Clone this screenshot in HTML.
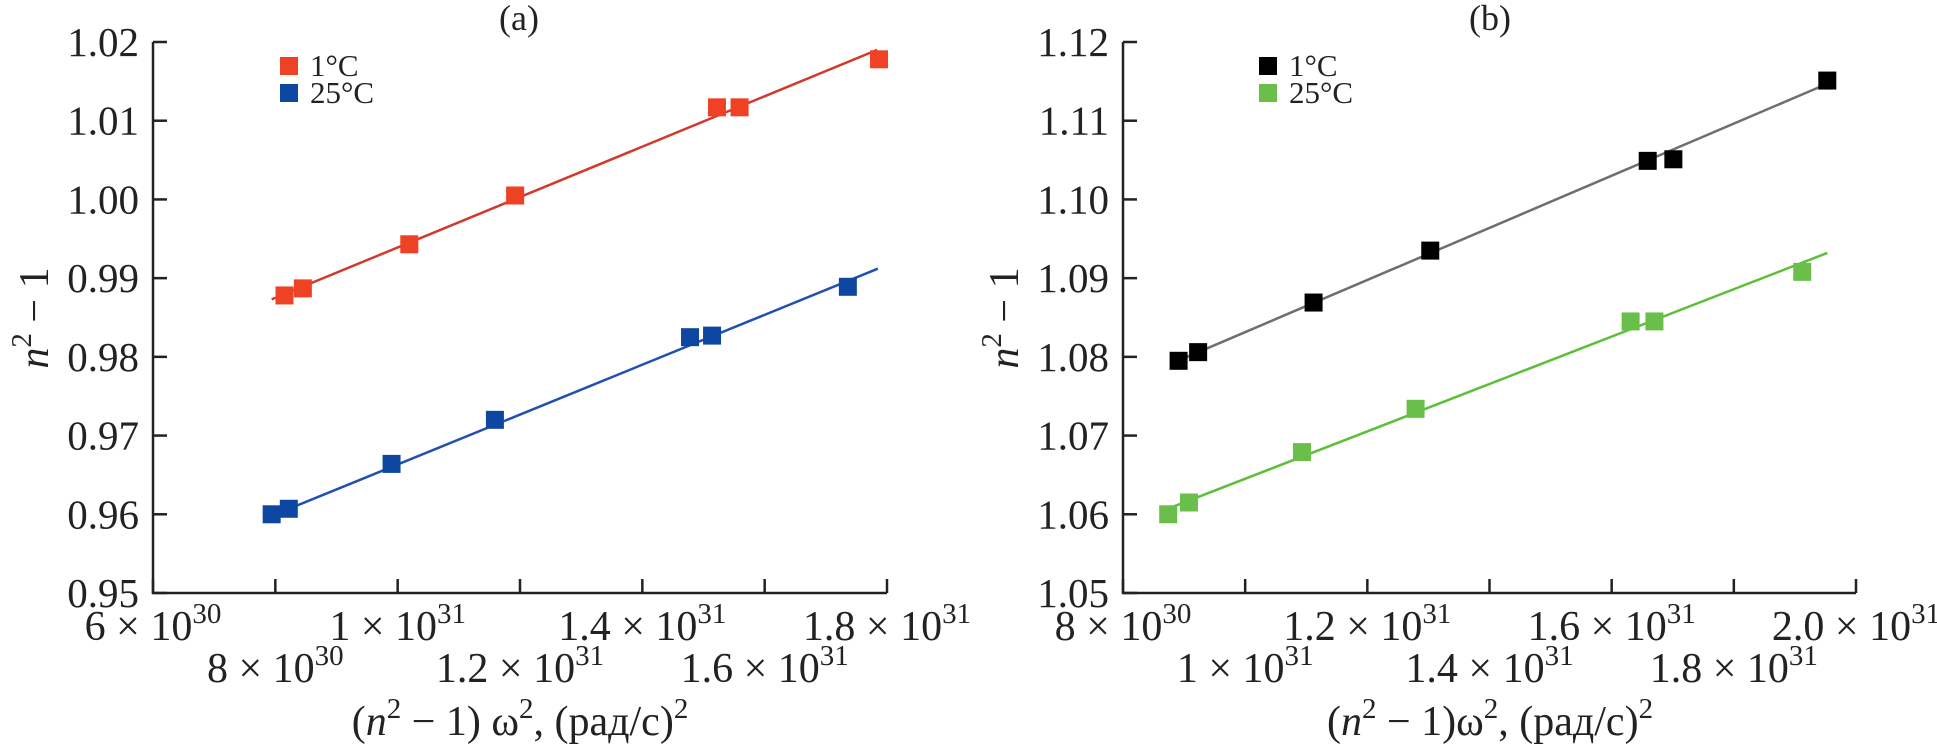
<!DOCTYPE html>
<html><head><meta charset="utf-8"><style>
html,body{margin:0;padding:0;background:#fff}
svg{display:block;font-family:"Liberation Serif",serif}
text{font-family:"Liberation Serif",serif}
</style></head><body>
<svg id="chart" width="1937" height="746" viewBox="0 0 1937 746" font-family="Liberation Serif, serif" xmlns="http://www.w3.org/2000/svg"></svg>
<script>
// Panel (a) data
const aRedX = [8.15, 8.45, 10.19, 11.92, 15.22, 15.59, 17.87];
const aRedY = [0.9878, 0.9887, 0.9943, 1.0005, 1.0117, 1.0117, 1.0178];
const aBlueX = [7.94, 8.22, 9.90, 11.59, 14.78, 15.14, 17.36];
const aBlueY = [0.9600, 0.9607, 0.9664, 0.9720, 0.9825, 0.9827, 0.9889];
const aRedFitX = [7.94, 17.84];
const aRedFitY = [0.9873, 1.0190];
const aBlueFitX = [7.94, 17.85];
const aBlueFitY = [0.9598, 0.9912];
const aYTicks = [0.95, 0.96, 0.97, 0.98, 0.99, 1.00, 1.01, 1.02];
const aXTicks = [6, 8, 10, 12, 14, 16, 18];
const aXTickMant = ["6", "8", "1", "1.2", "1.4", "1.6", "1.8"];
const aXTickExp = ["30", "30", "31", "31", "31", "31", "31"];
// Panel (b) data
const bBlackX = [8.91, 9.23, 11.12, 13.03, 16.59, 17.01, 19.53];
const bBlackY = [1.0795, 1.0806, 1.0869, 1.0935, 1.1049, 1.1051, 1.1151];
const bGreenX = [8.74, 9.08, 10.93, 12.79, 16.31, 16.70, 19.12];
const bGreenY = [1.0600, 1.0615, 1.0679, 1.0734, 1.0845, 1.0845, 1.0908];
const bBlackFitX = [8.78, 19.53];
const bBlackFitY = [1.0791, 1.1147];
const bGreenFitX = [8.80, 19.53];
const bGreenFitY = [1.0609, 1.0932];
const bYTicks = [1.05, 1.06, 1.07, 1.08, 1.09, 1.10, 1.11, 1.12];
const bXTicks = [8, 10, 12, 14, 16, 18, 20];
const bXTickMant = ["8", "1", "1.2", "1.4", "1.6", "1.8", "2.0"];
const bXTickExp = ["30", "31", "31", "31", "31", "31", "31"];

const NS = "http://www.w3.org/2000/svg";
const svg = document.getElementById('chart');
function mk(tag, attrs, parent) {
  const e = document.createElementNS(NS, tag);
  for (const k in attrs) e.setAttribute(k, attrs[k]);
  (parent || svg).appendChild(e);
  return e;
}

function panel(cfg) {
  const g = mk('g', {});
  
  
  const X = v => cfg.x0 + (v - cfg.xmin) / (cfg.xmax - cfg.xmin) * (cfg.x1 - cfg.x0);
  const Y = v => cfg.y0 - (v - cfg.ymin) / (cfg.ymax - cfg.ymin) * (cfg.y0 - cfg.y1);
  const ax = mk('path', {d: `M${cfg.x0},${cfg.y1} L${cfg.x0},${cfg.y0} L${cfg.x1},${cfg.y0}`, fill: 'none', stroke: '#222', 'stroke-width': 2.5}, g);
  
  
  cfg.yTicks.forEach(t => {
    const y = Y(t);
    const tk = mk('line', {x1: cfg.x0, x2: cfg.x0 + 14, y1: y, y2: y, stroke: '#222', 'stroke-width': 2.5}, g);
    
    
    const tl = mk('text', {x: cfg.x0 - 14, y: y + 14, 'text-anchor': 'end', 'font-size': 41, fill: '#222'}, g);
    tl.textContent = t.toFixed(2);
    
    
  });
  cfg.xTicks.forEach((t, i) => {
    const x = X(t);
    const tk = mk('line', {x1: x, x2: x, y1: cfg.y0, y2: cfg.y0 - 14, stroke: '#222', 'stroke-width': 2.5}, g);
    
    
    const row = i % 2 === 0 ? 640 : 682;
    const tl = mk('text', {x: x, y: row, 'text-anchor': 'middle', 'font-size': 42, fill: '#222'}, g);
    
    
    const t1 = mk('tspan', {}, tl); t1.textContent = cfg.xMant[i] + ' × 10';
    const t2 = mk('tspan', {dy: -17, 'font-size': 29}, tl); t2.textContent = cfg.xExp[i];
  });
  cfg.series.forEach(s => {
    const ln = mk('line', {x1: X(s.fx[0]), y1: Y(s.fy[0]), x2: X(s.fx[1]), y2: Y(s.fy[1]), stroke: s.line, 'stroke-width': 2.5}, g);
    
    
    s.xs.forEach((v, i) => {
      const r = mk('rect', {x: X(v) - 9, y: Y(s.ys[i]) - 9, width: 18, height: 18, fill: s.color}, g);
      
      
    });
  });
  cfg.series.forEach((s, i) => {
    const r = mk('rect', {x: cfg.legX, y: 57 + i * 27, width: 18, height: 18, fill: s.color}, g);
    
    
    const t = mk('text', {x: cfg.legX + 30, y: 76 + i * 27, 'font-size': 31, fill: '#222'}, g);
    t.textContent = s.label;
    
    
  });
  const tt = mk('text', {x: cfg.titleX, y: 30, 'text-anchor': 'middle', 'font-size': 36, fill: '#222'}, g);
  tt.textContent = cfg.title;
  
  
  const yt = mk('text', {x: 0, y: 0, 'text-anchor': 'middle', 'font-size': 42, fill: '#222', transform: `translate(${cfg.x0 - 105},318) rotate(-90)`}, g);
  
  
  const a1 = mk('tspan', {'font-style': 'italic'}, yt); a1.textContent = 'n';
  const a2 = mk('tspan', {dy: -17, 'font-size': 29}, yt); a2.textContent = '2';
  const a3 = mk('tspan', {dy: 17}, yt); a3.textContent = ' − 1';
  const xt = mk('text', {x: cfg.xTitleX, y: 735, 'text-anchor': 'middle', 'font-size': 42, fill: '#222'}, g);
  
  
  const b1 = mk('tspan', {}, xt); b1.textContent = '(';
  const b2 = mk('tspan', {'font-style': 'italic'}, xt); b2.textContent = 'n';
  const b3 = mk('tspan', {dy: -17, 'font-size': 29}, xt); b3.textContent = '2';
  const b4 = mk('tspan', {dy: 17}, xt); b4.textContent = cfg.xTitleMid;
  const b5 = mk('tspan', {dy: -17, 'font-size': 29}, xt); b5.textContent = '2';
  const b6 = mk('tspan', {dy: 17}, xt); b6.textContent = ', (рад/с)';
  const b7 = mk('tspan', {dy: -17, 'font-size': 29}, xt); b7.textContent = '2';
}

panel({name: 'panel-a', x0: 153, x1: 887, y0: 593, y1: 42, xmin: 6, xmax: 18, ymin: 0.95, ymax: 1.02,
  yTicks: aYTicks, xTicks: aXTicks, xMant: aXTickMant, xExp: aXTickExp,
  legX: 280, title: '(a)', titleX: 519, xTitleX: 520, xTitleMid: ' − 1) ω',
  series: [
    {name: 'red-1c', label: '1°C', xs: aRedX, ys: aRedY, fx: aRedFitX, fy: aRedFitY, color: '#ef4123', line: '#cf3a2c'},
    {name: 'blue-25c', label: '25°C', xs: aBlueX, ys: aBlueY, fx: aBlueFitX, fy: aBlueFitY, color: '#0d47a1', line: '#2150b0'}
  ]});
panel({name: 'panel-b', x0: 1123, x1: 1856, y0: 593, y1: 42, xmin: 8, xmax: 20, ymin: 1.05, ymax: 1.12,
  yTicks: bYTicks, xTicks: bXTicks, xMant: bXTickMant, xExp: bXTickExp,
  legX: 1259, title: '(b)', titleX: 1490, xTitleX: 1490, xTitleMid: ' − 1)ω',
  series: [
    {name: 'black-1c', label: '1°C', xs: bBlackX, ys: bBlackY, fx: bBlackFitX, fy: bBlackFitY, color: '#000000', line: '#6e6e6e'},
    {name: 'green-25c', label: '25°C', xs: bGreenX, ys: bGreenY, fx: bGreenFitX, fy: bGreenFitY, color: '#6abf4b', line: '#5cbf3a'}
  ]});
</script>
</body></html>
